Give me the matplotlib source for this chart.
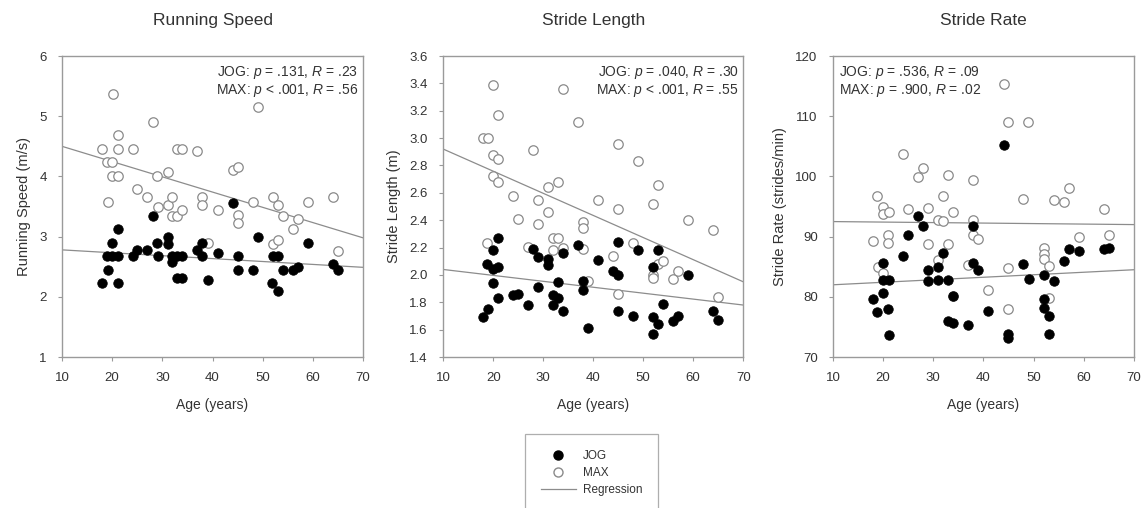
#!/usr/bin/env python3
"""Age vs running speed, stride length and stride rate (JOG / MAX)."""
import matplotlib

matplotlib.use("Agg")
import matplotlib.pyplot as plt
from matplotlib.lines import Line2D

plt.rcParams["font.family"] = ["Liberation Sans", "DejaVu Sans"]
plt.rcParams["mathtext.fontset"] = "custom"
plt.rcParams["mathtext.rm"] = "Liberation Sans"
plt.rcParams["mathtext.it"] = "Liberation Sans:italic"

TEXT = "#333333"
FRAME = "#9a9a9a"
LINE = "#8c8c8c"

# ---- Running speed (m/s) ----
speed_max_age = [18, 19, 20, 20.1, 19.1, 20, 21.1, 21.1, 21.1, 24.1, 25, 27, 28.1, 29, 29.1,
                 31.1, 31.1, 32, 32, 33, 33, 34, 34, 37, 38, 38, 39, 41, 44, 45, 45, 45,
                 48, 49, 52.1, 52.1, 53, 53, 54, 56.1, 57, 59, 64.1, 65.1]
speed_max = [4.46, 4.24, 4.24, 5.37, 3.58, 4.0, 4.69, 4.46, 4.0, 4.46, 3.79, 3.66, 4.91, 4.0, 3.49,
             4.07, 3.52, 3.66, 3.34, 3.34, 4.46, 4.46, 3.44, 4.42, 3.66, 3.52, 2.90, 3.44, 4.10, 4.16, 3.36, 3.22,
             3.58, 5.15, 3.66, 2.87, 3.52, 2.95, 3.34, 3.13, 3.29, 3.58, 3.66, 2.76]
speed_jog_age = [18, 19.1, 20, 19, 20, 21.1, 21.1, 21.1, 24.1, 25, 27, 28.1, 29, 29.1, 31.1, 31.1,
                 32, 32, 33, 34, 33, 34, 37, 38, 38, 39, 41, 45, 45, 44, 48, 49, 52.1, 53,
                 51.9, 53.1, 54, 56.1, 57, 59, 64.1, 65.1]
speed_jog = [2.23, 2.45, 2.90, 2.68, 2.68, 2.68, 3.12, 2.23, 2.67, 2.77, 2.77, 3.34, 2.90, 2.67, 3.0, 2.87,
             2.67, 2.58, 2.67, 2.67, 2.32, 2.32, 2.77, 2.90, 2.67, 2.28, 2.73, 2.67, 2.45, 3.56, 2.45, 3.0, 2.67, 2.67,
             2.23, 2.10, 2.45, 2.45, 2.5, 2.90, 2.55, 2.45]
speed_max_fit = [4.50, 2.98]
speed_jog_fit = [2.78, 2.49]

# ---- Stride length (m) ----
length_max_age = [17.9, 19.0, 20, 20, 21, 19.9, 21, 21, 18.8, 24, 25, 26.9, 28, 29, 29, 31, 31,
                  31.9, 31.9, 33, 33, 34, 33.9, 37, 37.9, 37.9, 37.9, 39, 40.9, 43.9, 44.9, 44.9,
                  44.9, 47.9, 49, 52, 52, 52, 53, 52.9, 53.9, 55.9, 57, 59, 63.9, 65]
length_max = [3.00, 3.00, 3.39, 2.875, 2.85, 2.72, 2.68, 3.17, 2.23, 2.58, 2.41, 2.205, 2.91, 2.55, 2.37, 2.64, 2.46,
              2.27, 2.18, 2.68, 2.27, 2.20, 3.36, 3.12, 2.39, 2.34, 2.19, 1.956, 2.55, 2.14, 2.96, 2.48,
              1.86, 2.23, 2.83, 2.52, 2.0, 1.98, 2.66, 2.08, 2.10, 1.97, 2.03, 2.40, 2.33, 1.84]
length_jog_age = [17.9, 19, 18.8, 20, 20, 20, 21, 21, 21, 24, 25, 26.9, 28, 29, 29, 31, 31, 31.9,
                  31.9, 33, 33, 34, 34, 37, 37.9, 37.9, 39, 40.9, 43.9, 44.9, 44.9, 44.9, 47.9, 49,
                  52, 52, 52, 53, 53, 53.9, 55.9, 57, 59, 63.9, 65]
length_jog = [1.69, 1.75, 2.08, 2.18, 2.04, 1.94, 2.06, 2.27, 1.83, 1.85, 1.86, 1.78, 2.19, 2.13, 1.91, 2.12, 2.07, 1.85,
              1.78, 1.95, 1.83, 2.16, 1.74, 2.22, 1.956, 1.89, 1.61, 2.11, 2.03, 2.24, 2.0, 1.74, 1.70, 2.18,
              2.06, 1.69, 1.57, 2.18, 1.64, 1.79, 1.66, 1.70, 2.0, 1.74, 1.67]
length_max_fit = [2.92, 1.95]
length_jog_fit = [2.04, 1.78]

# ---- Stride rate (strides/min) ----
rate_max_age = [18, 18.85, 19, 20, 20, 20, 21.1, 21, 21, 24, 25, 26.9, 28, 29, 29, 31, 31, 32, 32,
                33, 33, 34, 34, 37, 37.9, 37.9, 37.9, 39, 40.9, 44.9, 44.9, 44.9, 44.1, 47.9, 48.9,
                52, 52, 52, 53.1, 53.1, 54, 56, 57, 59, 64, 65.1]
rate_max = [89.3, 96.7, 85.0, 95.0, 93.7, 83.9, 94.1, 90.3, 88.9, 103.7, 94.6, 99.9, 101.4, 94.8, 88.7, 92.7, 86.1, 96.7, 92.6,
            100.2, 88.8, 94.1, 80.2, 85.3, 99.4, 92.7, 90.3, 89.6, 81.1, 109.1, 84.8, 78.0, 115.4, 96.3, 109.1,
            88.1, 87.1, 86.3, 79.8, 85.2, 96.1, 95.7, 98.1, 89.9, 94.6, 90.3]
rate_jog_age = [18, 18.85, 20, 20, 20, 21.1, 21, 21.1, 24, 25, 26.9, 28, 29, 29, 31, 31, 32, 33, 33,
                34, 34, 37, 37.9, 37.9, 39, 40.9, 44.1, 44.9, 44.9, 47.9, 49, 52, 52, 52, 53.1, 53.1,
                54, 56, 57, 59, 64, 65.1]
rate_jog = [79.6, 77.4, 85.6, 82.8, 80.6, 82.8, 78.0, 73.7, 86.7, 90.3, 93.4, 91.8, 84.4, 82.6, 85.0, 82.8, 87.2, 82.8, 76.0,
            80.2, 75.6, 75.4, 91.8, 85.7, 84.4, 77.7, 105.2, 73.9, 73.2, 85.4, 82.9, 83.7, 79.6, 78.2, 76.8, 73.8,
            82.6, 85.9, 87.9, 87.6, 87.9, 88.1]
rate_max_fit = [92.5, 92.0]
rate_jog_fit = [82.0, 84.5]

fit_age = [10, 70]

PANELS = [
    {
        "title": "Running Speed", "ylabel": "Running Speed (m/s)",
        "jog": (speed_jog_age, speed_jog), "max": (speed_max_age, speed_max),
        "fits": (speed_jog_fit, speed_max_fit),
        "ylim": (1, 6), "yticks": [1, 2, 3, 4, 5, 6], "yfmt": "{:.0f}",
        "note": "JOG: $p$ = .131, $R$ = .23\nMAX: $p$ < .001, $R$ = .56", "note_left": False,
        "rect": [0.0543, 0.2972, 0.2636, 0.5925],
    },
    {
        "title": "Stride Length", "ylabel": "Stride Length (m)",
        "jog": (length_jog_age, length_jog), "max": (length_max_age, length_max),
        "fits": (length_jog_fit, length_max_fit),
        "ylim": (1.4, 3.6), "yticks": [1.4, 1.6, 1.8, 2.0, 2.2, 2.4, 2.6, 2.8, 3.0, 3.2, 3.4, 3.6], "yfmt": "{:.1f}",
        "note": "JOG: $p$ = .040, $R$ = .30\nMAX: $p$ < .001, $R$ = .55", "note_left": False,
        "rect": [0.3881, 0.2972, 0.2627, 0.5925],
    },
    {
        "title": "Stride Rate", "ylabel": "Stride Rate (strides/min)",
        "jog": (rate_jog_age, rate_jog), "max": (rate_max_age, rate_max),
        "fits": (rate_jog_fit, rate_max_fit),
        "ylim": (70, 120), "yticks": [70, 80, 90, 100, 110, 120], "yfmt": "{:.0f}",
        "note": "JOG: $p$ = .536, $R$ = .09\nMAX: $p$ = .900, $R$ = .02", "note_left": True,
        "rect": [0.7294, 0.2972, 0.2636, 0.5925],
    },
]

fig = plt.figure(figsize=(11.42, 5.08), dpi=100)

for panel in PANELS:
    ax = fig.add_axes(panel["rect"])
    for fit in panel["fits"]:
        ax.plot(fit_age, fit, color=LINE, linewidth=0.9, zorder=1)
    ax.plot(*panel["max"], linestyle="none", marker="o", markersize=6.8,
            markerfacecolor="white", markeredgecolor="#8a8a8a", markeredgewidth=0.9, zorder=2)
    ax.plot(*panel["jog"], linestyle="none", marker="o", markersize=6.8,
            markerfacecolor="black", markeredgecolor="black", markeredgewidth=0.6, zorder=3)
    ax.set_xlim(10, 70)
    ax.set_ylim(*panel["ylim"])
    ax.set_xticks(range(10, 71, 10))
    ax.set_yticks(panel["yticks"], [panel["yfmt"].format(v) for v in panel["yticks"]])
    ax.tick_params(direction="out", length=3, width=0.8, color=FRAME, labelcolor=TEXT, labelsize=9.5, pad=8)
    for spine in ax.spines.values():
        spine.set_color(FRAME)
        spine.set_linewidth(1.0)
    ax.set_title(panel["title"], fontsize=12.5, color=TEXT, pad=22)
    ax.set_xlabel("Age (years)", fontsize=10, color=TEXT, labelpad=10)
    ax.set_ylabel(panel["ylabel"], fontsize=10.5, color=TEXT, labelpad=6)
    if panel["note_left"]:
        ax.text(0.02, 0.975, panel["note"], transform=ax.transAxes, ha="left", va="top",
                fontsize=10, color=TEXT, linespacing=1.15)
    else:
        ax.text(0.985, 0.975, panel["note"], transform=ax.transAxes, ha="right", va="top",
                fontsize=10, color=TEXT, linespacing=1.15)

handles = [
    Line2D([0], [0], linestyle="none", marker="o", markersize=6.5, markerfacecolor="black",
           markeredgecolor="black", label="JOG"),
    Line2D([0], [0], linestyle="none", marker="o", markersize=6.5, markerfacecolor="white",
           markeredgecolor="#8a8a8a", label="MAX"),
    Line2D([0], [0], color=LINE, linewidth=0.9, label="Regression"),
]
leg = fig.legend(handles=handles, loc="upper center", bbox_to_anchor=(0.518, 0.145),
                 fontsize=8.5, frameon=True, fancybox=False, edgecolor=FRAME,
                 handlelength=3.0, labelspacing=0.45, borderpad=1.3, handletextpad=0.6,
                 borderaxespad=0)
for t in leg.get_texts():
    t.set_color(TEXT)
leg.get_frame().set_linewidth(0.9)

fig.savefig("out.png", dpi=100)
